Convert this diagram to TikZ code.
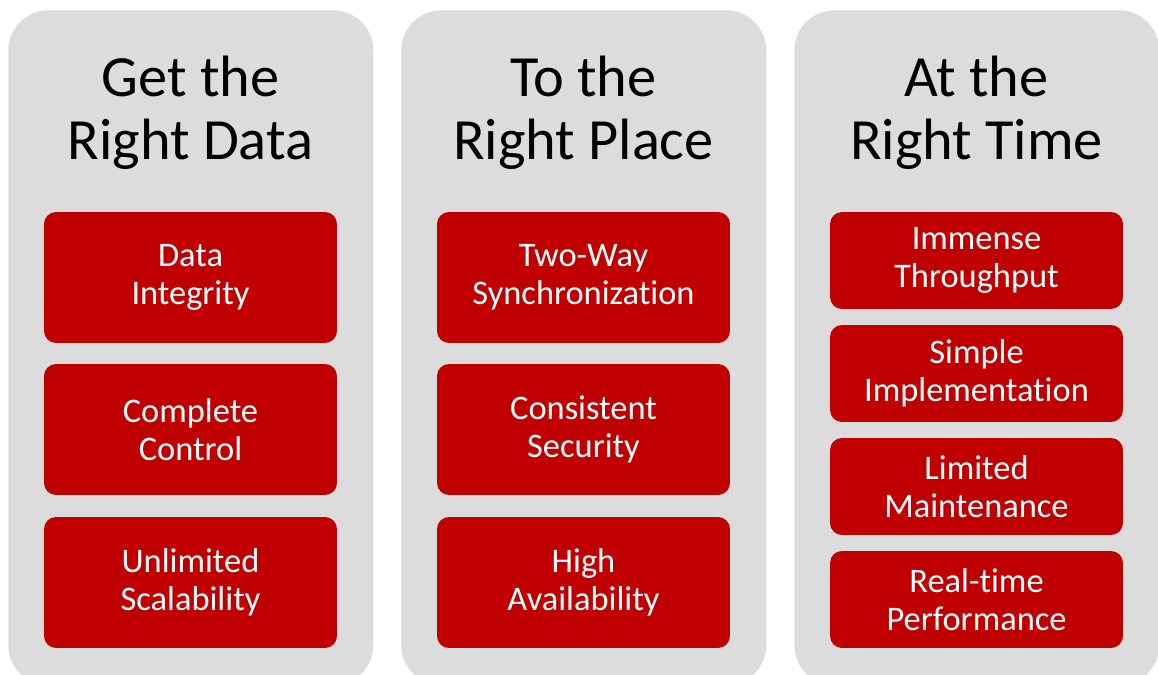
\documentclass[tikz,border=0pt]{standalone}
\usepackage{fontspec}
\setmainfont{Carlito}[Ligatures=NoCommon]
\usetikzlibrary{positioning}
\definecolor{panelgrey}{HTML}{DCDCDC}
\definecolor{boxred}{HTML}{C00000}

\begin{document}
\begin{tikzpicture}[x=0.02cm, y=-0.02cm,
  panel/.style = {shape=rectangle, anchor=north west, fill=panelgrey,
    minimum width=7.3cm, minimum height=13.5cm, rounded corners=0.8cm, inner sep=0pt},
  heading/.style = {align=center, text=black,
    font=\fontsize{33.2}{36}\selectfont},
  item/.style = {shape=rectangle, fill=boxred, text=white, align=center,
    minimum width=5.86cm, rounded corners=0.24cm, inner sep=0pt,
    font=\fontsize{19.6}{21.4}\selectfont},
  tall/.style = {item, minimum height=2.62cm},
  short/.style = {item, minimum height=1.94cm},
 ]
 \useasboundingbox (0,0) rectangle (1158,675);
 \clip (0,0) rectangle (1158,675);
 % panels
 \node[panel] (p1) at (8,10) {};
 \node[panel] (p2) at (401,10) {};
 \node[panel] (p3) at (794,10) {};
 % headings
 \node[heading] (t1) at (190.5,113) {Get the\\Right Data};
 \node[heading] (t2) at (583.5,113) {To the\\Right Place};
 \node[heading] (t3) at (976.5,113) {At the\\Right Time};
 % first column
 \node[tall] (d1) at (190.5,277.5) {Data\\Integrity};
 \node[tall] (d2) at (190.5,429.5) {Complete\\Control};
 \node[tall] (d3) at (190.5,582.5) {Unlimited\\Scalability};
 % second column
 \node[tall] (s1) at (583.5,277.5) {Two-Way\\Synchronization};
 \node[tall] (s2) at (583.5,429.5) {Consistent\\Security};
 \node[tall] (s3) at (583.5,582.5) {High\\Availability};
 % third column
 \node[short] (r1) at (976.5,260.5) {Immense\\Throughput};
 \node[short] (r2) at (976.5,373.5) {Simple\\Implementation};
 \node[short] (r3) at (976.5,486.5) {Limited\\Maintenance};
 \node[short] (r4) at (976.5,599.5) {Real-time\\Performance};
\end{tikzpicture}
\end{document}
